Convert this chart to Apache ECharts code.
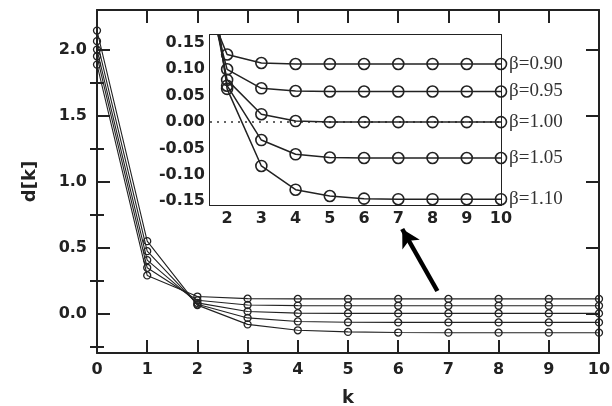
<!DOCTYPE html>
<html>
<head>
<meta charset="utf-8">
<script src="https://cdn.jsdelivr.net/npm/echarts@6/dist/echarts.min.js"></script>
<style>
  html, body { margin: 0; padding: 0; background: #fff; }
  #chart { width: 612px; height: 406px; }
</style>
</head>
<body>
<div id="chart"></div>
<script>
const kValues = [0, 1, 2, 3, 4, 5, 6, 7, 8, 9, 10];
const betaNames = ['0.90', '0.95', '1.00', '1.05', '1.10'];

const d090 = [1.886, 0.288, 0.128, 0.112, 0.110, 0.110, 0.110, 0.110, 0.110, 0.110, 0.110];
const d095 = [1.949, 0.346, 0.100, 0.064, 0.059, 0.058, 0.058, 0.058, 0.058, 0.058, 0.058];
const d100 = [2.000, 0.404, 0.080, 0.015, 0.002, 0.000, 0.000, 0.000, 0.000, 0.000, 0.000];
const d105 = [2.064, 0.472, 0.069, -0.034, -0.061, -0.067, -0.068, -0.068, -0.068, -0.068, -0.068];
const d110 = [2.144, 0.548, 0.063, -0.083, -0.128, -0.140, -0.145, -0.146, -0.146, -0.146, -0.146];
const allSeries = [d090, d095, d100, d105, d110];

const mainYLabels = [0, 0.5, 1.0, 1.5, 2.0];
const mainYMinor = [-0.25, 0.25, 0.75, 1.25, 1.75];
const insetXLabels = [2, 3, 4, 5, 6, 7, 8, 9, 10];
const insetYLabels = [-0.15, -0.10, -0.05, 0.00, 0.05, 0.10, 0.15];

// arrow pointing at the inset, in main-axis units
const arrowFrom = [6.78, 0.17];
const arrowTo = [6.08, 0.64];

const ink = '#222';
const tickFont = { fontFamily: 'DejaVu Sans', fontWeight: 'bold', fontSize: 16, color: ink };

const chart = echarts.init(document.getElementById('chart'));

const toPairs = (arr) => arr.map((v, i) => [kValues[i], v]);

const boxLine = { show: true, onZero: false, lineStyle: { color: ink, width: 2 } };

const series = [];
allSeries.forEach((arr, i) => {
  series.push({
    name: 'main ' + betaNames[i],
    type: 'line',
    xAxisIndex: 0,
    yAxisIndex: 0,
    data: toPairs(arr),
    symbol: 'circle',
    symbolSize: 7,
    lineStyle: { color: ink, width: 1.1 },
    itemStyle: { color: 'rgba(0,0,0,0)', borderColor: ink, borderWidth: 1.3 },
    silent: true,
    z: 2
  });
});
allSeries.forEach((arr, i) => {
  series.push({
    name: 'β=' + betaNames[i],
    type: 'line',
    xAxisIndex: 2,
    yAxisIndex: 4,
    data: toPairs(arr),
    clip: true,
    symbol: 'circle',
    symbolSize: 11,
    lineStyle: { color: ink, width: 1.5 },
    itemStyle: { color: 'rgba(0,0,0,0)', borderColor: ink, borderWidth: 1.6 },
    endLabel: {
      show: true,
      formatter: 'β=' + betaNames[i],
      distance: 8,
      fontFamily: 'Liberation Serif',
      fontSize: 19,
      color: '#333'
    },
    silent: true,
    z: 5
  });
});

// dotted zero line in the inset
series[7].markLine = {
  silent: true,
  symbol: ['none', 'none'],
  label: { show: false },
  lineStyle: { color: '#333', type: [2, 5], width: 1.5 },
  data: [{ yAxis: 0 }]
};
// arrow
series[0].markLine = {
  silent: true,
  symbol: ['none', 'arrow'],
  symbolSize: [15, 18],
  label: { show: false },
  lineStyle: { color: '#000', type: 'solid', width: 4.5 },
  data: [[{ coord: arrowFrom }, { coord: arrowTo }]]
};

const op = {
  animation: false,
  backgroundColor: '#fff',
  grid: [
    { left: 97, right: 13, top: 10, bottom: 53, outerBoundsMode: 'none', containLabel: false },
    { left: 210, top: 35, width: 291, height: 170, outerBoundsMode: 'none', containLabel: false,
      show: true, backgroundColor: '#fff', borderWidth: 0, z: 3 }
  ],
  xAxis: [
    {
      type: 'value', gridIndex: 0, min: 0, max: 10, interval: 1, position: 'bottom',
      name: 'k', nameLocation: 'middle', nameGap: 36,
      nameTextStyle: { fontFamily: 'DejaVu Sans', fontWeight: 'bold', fontSize: 18, color: ink },
      axisLine: boxLine,
      axisTick: { inside: true, length: 13, lineStyle: { color: ink, width: 2 } },
      axisLabel: Object.assign({ margin: 9 }, tickFont),
      splitLine: { show: false }
    },
    {
      type: 'value', gridIndex: 0, min: 0, max: 10, interval: 1, position: 'top',
      axisLine: boxLine,
      axisTick: { inside: true, length: 13, lineStyle: { color: ink, width: 2 } },
      axisLabel: { show: false },
      splitLine: { show: false }
    },
    {
      type: 'value', gridIndex: 1, min: 1.5, max: 10, position: 'bottom',
      axisLine: boxLine,
      axisTick: { inside: true, length: 5, customValues: insetXLabels, lineStyle: { color: ink, width: 1.5 } },
      axisLabel: Object.assign({ margin: 6, customValues: insetXLabels }, tickFont),
      splitLine: { show: false }
    },
    {
      type: 'value', gridIndex: 1, min: 1.5, max: 10, position: 'top',
      axisLine: boxLine,
      axisTick: { inside: true, length: 5, customValues: insetXLabels, lineStyle: { color: ink, width: 1.5 } },
      axisLabel: { show: false },
      splitLine: { show: false }
    }
  ],
  yAxis: [
    {
      type: 'value', gridIndex: 0, min: -0.3, max: 2.3, position: 'left',
      name: 'd[k]', nameLocation: 'middle', nameGap: 58, nameRotate: 90,
      nameTextStyle: { fontFamily: 'DejaVu Sans', fontWeight: 'bold', fontSize: 18, color: ink },
      axisLine: boxLine,
      axisTick: { inside: true, length: 13, customValues: mainYLabels, lineStyle: { color: ink, width: 2 } },
      axisLabel: Object.assign({ margin: 10, customValues: mainYLabels, formatter: (v) => v.toFixed(1) }, tickFont),
      splitLine: { show: false }
    },
    {
      type: 'value', gridIndex: 0, min: -0.3, max: 2.3, position: 'right',
      axisLine: boxLine,
      axisTick: { inside: true, length: 13, customValues: mainYLabels, lineStyle: { color: ink, width: 2 } },
      axisLabel: { show: false },
      splitLine: { show: false }
    },
    {
      type: 'value', gridIndex: 0, min: -0.3, max: 2.3, position: 'left',
      axisLine: { show: false },
      axisTick: { inside: true, length: 7, customValues: mainYMinor, lineStyle: { color: ink, width: 2 } },
      axisLabel: { show: false },
      splitLine: { show: false }
    },
    {
      type: 'value', gridIndex: 0, min: -0.3, max: 2.3, position: 'right',
      axisLine: { show: false },
      axisTick: { inside: true, length: 7, customValues: mainYMinor, lineStyle: { color: ink, width: 2 } },
      axisLabel: { show: false },
      splitLine: { show: false }
    },
    {
      type: 'value', gridIndex: 1, min: -0.157, max: 0.165, position: 'left',
      axisLine: boxLine,
      axisTick: { inside: true, length: 5, customValues: insetYLabels, lineStyle: { color: ink, width: 1.5 } },
      axisLabel: Object.assign({ margin: 5, customValues: insetYLabels, formatter: (v) => v.toFixed(2) }, tickFont),
      splitLine: { show: false }
    },
    {
      type: 'value', gridIndex: 1, min: -0.157, max: 0.165, position: 'right',
      axisLine: boxLine,
      axisTick: { inside: true, length: 5, customValues: insetYLabels, lineStyle: { color: ink, width: 1.5 } },
      axisLabel: { show: false },
      splitLine: { show: false }
    }
  ],
  series: series
};

chart.setOption(op, true);
</script>
</body>
</html>
